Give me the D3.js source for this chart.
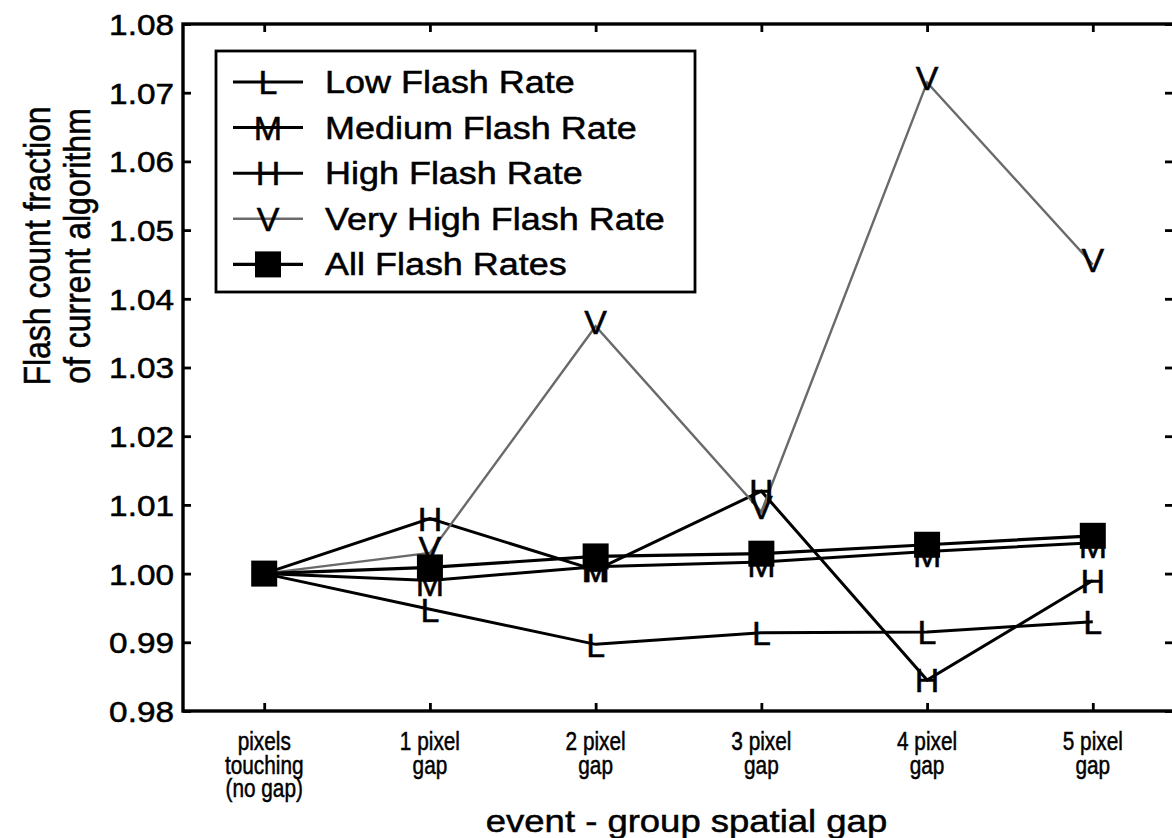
<!DOCTYPE html>
<html>
<head>
<meta charset="utf-8">
<script src="https://cdn.jsdelivr.net/npm/d3@7"></script>
<style>
  html, body { margin: 0; padding: 0; background: #fff; }
  svg { display: block; font-family: "Liberation Sans", Arial, Helvetica, sans-serif; }
  svg text { fill: #000; stroke: #000; stroke-width: 0.5px; }
</style>
</head>
<body>
<svg id="chart" width="1172" height="838"></svg>
<script>
// Category tick labels (one entry per line of each label)
const gapLabels = [
  ["pixels", "touching", "(no gap)"],
  ["1 pixel", "gap"],
  ["2 pixel", "gap"],
  ["3 pixel", "gap"],
  ["4 pixel", "gap"],
  ["5 pixel", "gap"]
];

// Flash count fraction of the current algorithm, per flash-rate class
const lowRate      = [1.000, 0.9948, 0.9897, 0.9914, 0.9915, 0.9930];
const mediumRate   = [1.000, 0.9990, 1.0010, 1.0017, 1.0032, 1.0045];
const highRate     = [1.000, 1.0080, 1.0005, 1.0120, 0.9845, 0.9990];
const veryHighRate = [1.000, 1.0030, 1.0360, 1.0090, 1.0715, 1.0450];
const allRates     = [1.000, 1.0009, 1.0025, 1.0029, 1.0042, 1.0055];

const seriesNames  = ["Low Flash Rate", "Medium Flash Rate", "High Flash Rate", "Very High Flash Rate", "All Flash Rates"];
const seriesLetter = ["L", "M", "H", "V", null];

const yTickValues = [0.98, 0.99, 1.00, 1.01, 1.02, 1.03, 1.04, 1.05, 1.06, 1.07, 1.08];

const xTitle = "event - group spatial gap";
const yTitle = ["Flash count fraction", "of current algorithm"];

// ---- layout & style ----
const plot = { left: 183, right: 1174, top: 24, bottom: 711 };
const seriesData = [lowRate, mediumRate, highRate, veryHighRate, allRates];
const seriesStyle = [
  { stroke: "#000", width: 3, dy: 0 },
  { stroke: "#000", width: 3, dy: 3 },
  { stroke: "#000", width: 3, dy: 0 },
  { stroke: "#6a6a6a", width: 2.4, dy: -5 },
  { stroke: "#000", width: 3.2, dy: 0 }
];

const svg = d3.select("#chart");

const x = d3.scalePoint()
  .domain(d3.range(gapLabels.length))
  .range([plot.left, plot.right])
  .padding(0.49);

const y = d3.scaleLinear()
  .domain([0.98, 1.08])
  .range([plot.bottom, plot.top]);

// ---- axes (ticks point inward on all four sides) ----
const axisLeft = svg.append("g")
  .attr("transform", `translate(${plot.left},0)`)
  .call(d3.axisLeft(y).tickValues(yTickValues).tickSizeInner(-8).tickSizeOuter(0)
    .tickFormat(d3.format(".2f")));
axisLeft.select(".domain").remove();
axisLeft.selectAll("line").attr("stroke-width", 2.8);
axisLeft.selectAll("text")
  .attr("x", 0)
  .attr("dy", "0.36em")
  .attr("transform", "translate(-9,0) scale(1.15,1)")
  .attr("font-size", 29);

const axisRight = svg.append("g")
  .attr("transform", `translate(${plot.right},0)`)
  .call(d3.axisRight(y).tickValues(yTickValues).tickSizeInner(-9).tickSizeOuter(0).tickFormat(""));
axisRight.select(".domain").remove();
axisRight.selectAll("line").attr("stroke-width", 2.8);

const axisBottom = svg.append("g")
  .attr("transform", `translate(0,${plot.bottom})`)
  .call(d3.axisBottom(x).tickSizeInner(-8).tickSizeOuter(0).tickFormat(""));
axisBottom.select(".domain").remove();
axisBottom.selectAll("line").attr("stroke-width", 2.8);

const axisTop = svg.append("g")
  .attr("transform", `translate(0,${plot.top})`)
  .call(d3.axisTop(x).tickSizeInner(-8).tickSizeOuter(0).tickFormat(""));
axisTop.select(".domain").remove();
axisTop.selectAll("line").attr("stroke-width", 2.8);

// frame
svg.append("rect")
  .attr("x", plot.left).attr("y", plot.top)
  .attr("width", plot.right - plot.left).attr("height", plot.bottom - plot.top)
  .attr("fill", "none").attr("stroke", "#000").attr("stroke-width", 3.4);

// multi-line category labels
const catLabels = svg.append("g").selectAll("g")
  .data(gapLabels)
  .join("g")
  .attr("transform", (d, i) => `translate(${x(i)},0)`);
catLabels.selectAll("text")
  .data(d => d)
  .join("text")
  .attr("transform", (d, j) => `translate(0,${750 + j * 23.5}) scale(0.8,1)`)
  .attr("text-anchor", "middle")
  .attr("font-size", 26)
  .text(d => d);

// axis titles
svg.append("text")
  .attr("transform", `translate(${(plot.left + plot.right) / 2 + 8},832) scale(1.14,1)`)
  .attr("text-anchor", "middle")
  .attr("font-size", 32)
  .text(xTitle);

const yTitleG = svg.append("g")
  .attr("transform", "translate(50,246) rotate(-90) scale(1,1.17)");
yTitleG.selectAll("text")
  .data(yTitle)
  .join("text")
  .attr("x", 0)
  .attr("y", (d, i) => i * 34)
  .attr("text-anchor", "middle")
  .attr("font-size", 32)
  .text(d => d);

// ---- series ----
const line = d3.line()
  .x((d, i) => x(i))
  .y(d => y(d));

const series = seriesData.map((values, k) => ({
  name: seriesNames[k], letter: seriesLetter[k], values, style: seriesStyle[k]
}));

svg.append("g").selectAll("path")
  .data(series)
  .join("path")
  .attr("d", s => line(s.values))
  .attr("fill", "none")
  .attr("stroke", s => s.style.stroke)
  .attr("stroke-width", s => s.style.width)
  .attr("stroke-linejoin", "miter");

// letter markers (those sitting exactly on the combined marker are covered by it)
const letterSeries = series.filter(s => s.letter);
svg.append("g").selectAll("g")
  .data(letterSeries)
  .join("g")
  .selectAll("text")
  .data(s => s.values.map((v, i) => ({ v, i, s })).filter(d => d.v !== allRates[d.i]))
  .join("text")
  .attr("x", d => x(d.i))
  .attr("y", d => y(d.v) + d.s.style.dy)
  .attr("dy", "0.36em")
  .attr("text-anchor", "middle")
  .attr("font-size", 34)
  .text(d => d.s.letter);

// square markers for the combined series
const sq = 26;
svg.append("g").selectAll("rect")
  .data(allRates)
  .join("rect")
  .attr("x", (d, i) => x(i) - sq / 2)
  .attr("y", d => y(d) - sq / 2)
  .attr("width", sq).attr("height", sq)
  .attr("fill", "#000");

// ---- legend ----
const legend = svg.append("g");
legend.append("rect")
  .attr("x", 216).attr("y", 51).attr("width", 479).attr("height", 241)
  .attr("fill", "#fff").attr("stroke", "#000").attr("stroke-width", 2.8);

const rows = legend.selectAll("g.row")
  .data(series)
  .join("g")
  .attr("class", "row")
  .attr("transform", (d, i) => `translate(0,${82 + i * 45.6})`);

rows.append("line")
  .attr("x1", 233).attr("x2", 303).attr("y1", 0).attr("y2", 0)
  .attr("stroke", d => d.style.stroke)
  .attr("stroke-width", d => d.style.width);

rows.filter(d => d.letter).append("text")
  .attr("x", 268).attr("y", 0).attr("dy", "0.36em")
  .attr("text-anchor", "middle")
  .attr("font-size", 34)
  .text(d => d.letter);

rows.filter(d => !d.letter).append("rect")
  .attr("x", 268 - sq / 2).attr("y", -sq / 2)
  .attr("width", sq).attr("height", sq)
  .attr("fill", "#000");

rows.append("text")
  .attr("transform", "translate(325,11) scale(1.16,1)")
  .attr("font-size", 31)
  .text(d => d.name);
</script>
</body>
</html>
